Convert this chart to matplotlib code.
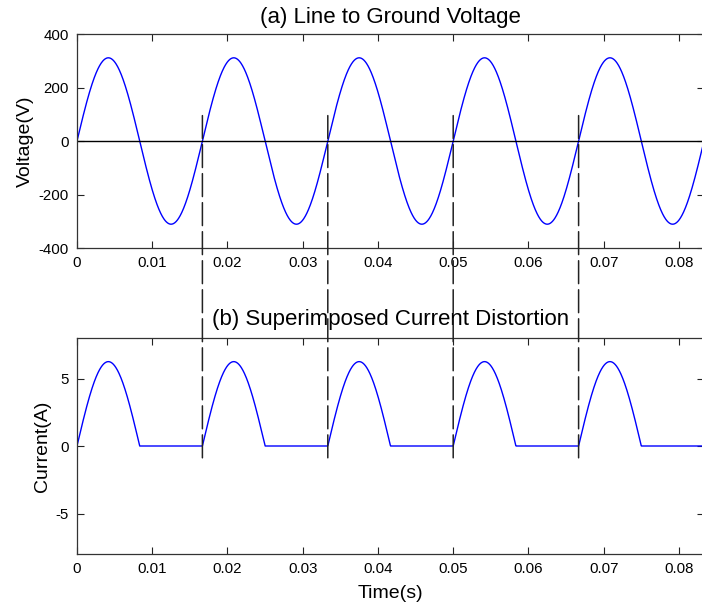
import numpy as np
import matplotlib
matplotlib.use('Agg')
import matplotlib.pyplot as plt
from matplotlib.patches import ConnectionPatch

plt.rcParams['font.family'] = ['Liberation Sans', 'DejaVu Sans']
plt.rcParams['axes.unicode_minus'] = False

# waveform parameters
line_freq = 60.0          # Hz, zero crossings every 1/60 s
v_peak = 311.0            # V
i_peak = 6.25             # A, half-wave current peak
t_end = 5 / 60.0          # five cycles shown
marker_times = [1 / 60, 2 / 60, 3 / 60, 4 / 60]   # dashed markers
marker_top_v = 95.0       # V, where dashed lines start in (a)
marker_bot_i = -1.3       # A, where dashed lines end in (b)

x_ticks = [0, 0.01, 0.02, 0.03, 0.04, 0.05, 0.06, 0.07, 0.08]
x_labels = ['0', '0.01', '0.02', '0.03', '0.04', '0.05', '0.06', '0.07', '0.08']
v_ticks = [-400, -200, 0, 200, 400]
i_ticks = [-5, 0, 5]

t = np.linspace(0, t_end, 2000)
voltage = v_peak * np.sin(2 * np.pi * line_freq * t)
current = np.clip(i_peak * np.sin(2 * np.pi * line_freq * t), 0, None)

W, H = 702, 606
fig = plt.figure(figsize=(W / 100, H / 100), dpi=100)

def px_axes(left, top, right, bottom):
    return fig.add_axes([left / W, 1 - bottom / H, (right - left) / W, (bottom - top) / H])

ax1 = px_axes(77, 34, 704, 248)
ax2 = px_axes(77, 338, 704, 554)

for ax in (ax1, ax2):
    ax.set_xlim(0, t_end)
    ax.set_xticks(x_ticks)
    ax.set_xticklabels(x_labels)
    ax.tick_params(direction='in', top=True, right=True, length=5,
                   labelsize=10.8, colors='#222222', labelcolor='black', pad=6)
    for s in ax.spines.values():
        s.set_color('#333333')
        s.set_linewidth(0.9)

ax1.plot(t, voltage, color='#0000ff', lw=1.0)
ax1.axhline(0, color='black', lw=1.0)
ax1.set_ylim(-400, 400)
ax1.set_yticks(v_ticks)
ax1.set_ylabel('Voltage(V)', fontsize=14, labelpad=3)
ax1.set_title('(a) Line to Ground Voltage', fontsize=16, pad=8)

ax2.plot(t, current, color='#0000ff', lw=1.0)
ax2.set_ylim(-8, 8)
ax2.set_yticks(i_ticks)
ax2.set_ylabel('Current(A)', fontsize=14, labelpad=3)
ax2.set_xlabel('Time(s)', fontsize=14, labelpad=6)
ax2.set_title('(b) Superimposed Current Distortion', fontsize=16, pad=9)

for tm in marker_times:
    con = ConnectionPatch(xyA=(tm, marker_top_v), coordsA=ax1.transData,
                          xyB=(tm, marker_bot_i), coordsB=ax2.transData,
                          color='#222222', lw=1.1, linestyle=(0, (15, 4)))
    fig.add_artist(con)

fig.savefig('out.png', dpi=100)
